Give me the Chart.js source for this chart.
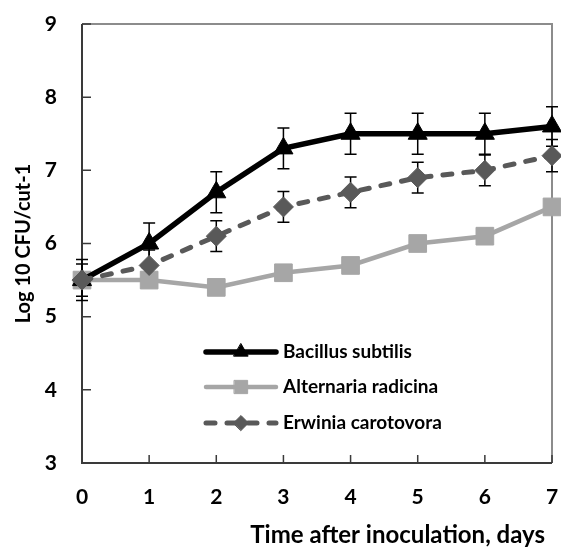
<!DOCTYPE html>
<html>
<head>
<meta charset="utf-8">
<script src="https://cdn.jsdelivr.net/npm/chart.js@4.4.0/dist/chart.umd.min.js"></script>
<style>
  html, body { margin: 0; padding: 0; background: #fff; }
  #wrap { width: 561px; height: 552px; position: relative; }
</style>
</head>
<body>
<div id="wrap"><canvas id="chart"></canvas></div>
<script>
const days = [0, 1, 2, 3, 4, 5, 6, 7];
const bacillus = [5.5, 6.0, 6.7, 7.3, 7.5, 7.5, 7.5, 7.6];
const bacillusErr = [0.28, 0.28, 0.28, 0.28, 0.28, 0.28, 0.28, 0.27];
const alternaria = [5.5, 5.5, 5.4, 5.6, 5.7, 6.0, 6.1, 6.5];
const erwinia = [5.5, 5.7, 6.1, 6.5, 6.7, 6.9, 7.0, 7.2];
const erwiniaErr = [0.22, 0.21, 0.21, 0.21, 0.21, 0.21, 0.21, 0.22];
const seriesNames = ["Bacillus subtilis", "Alternaria radicina", "Erwinia carotovora"];
const xTitle = "Time after inoculation, days";
const yTitle = "Log 10 CFU/cut-1";

const FONT = "Lato, 'DejaVu Sans', sans-serif";
const toPoints = (vals) => days.map((d, i) => ({ x: d, y: vals[i] }));

// box, inner tick marks
const boxPlugin = {
  id: "box",
  beforeDatasetsDraw(chart) {
    const { ctx, chartArea: a, scales } = chart;
    ctx.save();
    ctx.strokeStyle = "#8c8c8c";
    ctx.lineWidth = 2;
    ctx.beginPath();
    ctx.moveTo(a.left, a.top);
    ctx.lineTo(a.right, a.top);
    ctx.lineTo(a.right, a.bottom);
    ctx.stroke();

    ctx.strokeStyle = "#3a3a3a";
    ctx.lineWidth = 1.5;
    ctx.beginPath();
    scales.y.ticks.forEach((t) => {
      const py = scales.y.getPixelForValue(t.value);
      ctx.moveTo(a.left, py);
      ctx.lineTo(a.left + 9, py);
    });
    scales.x.ticks.forEach((t) => {
      const px = scales.x.getPixelForValue(t.value);
      ctx.moveTo(px, a.bottom);
      ctx.lineTo(px, a.bottom - 8);
    });
    ctx.stroke();

    ctx.lineWidth = 2;
    ctx.beginPath();
    ctx.moveTo(a.left, a.top);
    ctx.lineTo(a.left, a.bottom);
    ctx.lineTo(a.right, a.bottom);
    ctx.stroke();
    ctx.restore();
  },
};

// error bars from dataset.errors
const errorBarPlugin = {
  id: "errorBars",
  beforeDatasetsDraw(chart) {
    const { ctx, scales } = chart;
    ctx.save();
    ctx.strokeStyle = "#000";
    ctx.lineWidth = 1.5;
    chart.data.datasets.forEach((ds) => {
      if (!ds.errors) return;
      ds.data.forEach((p, i) => {
        const e = ds.errors[i];
        const px = scales.x.getPixelForValue(p.x);
        const top = scales.y.getPixelForValue(p.y + e);
        const bot = scales.y.getPixelForValue(p.y - e);
        ctx.beginPath();
        ctx.moveTo(px, top);
        ctx.lineTo(px, bot);
        ctx.moveTo(px - 6, top);
        ctx.lineTo(px + 6, top);
        ctx.moveTo(px - 6, bot);
        ctx.lineTo(px + 6, bot);
        ctx.stroke();
      });
    });
    ctx.restore();
  },
};

// legend with line + marker, and x title
const legendPlugin = {
  id: "inlineLegend",
  afterDraw(chart) {
    const { ctx, chartArea: a } = chart;
    const x0 = a.left + 124;
    const x1 = a.left + 194;
    const rows = [a.top + 328, a.top + 363, a.top + 399];
    ctx.save();
    chart.data.datasets.forEach((ds, r) => {
      const y = rows[r];
      ctx.strokeStyle = ds.borderColor;
      ctx.lineWidth = ds.borderWidth;
      ctx.lineCap = "round";
      ctx.setLineDash(ds.borderDash || []);
      ctx.beginPath();
      ctx.moveTo(x0, y);
      ctx.lineTo(x1, y);
      ctx.stroke();
      ctx.setLineDash([]);
      ctx.fillStyle = ds.pointBackgroundColor;
      ctx.strokeStyle = ds.pointBorderColor;
      ctx.lineWidth = 1;
      Chart.helpers.drawPoint(ctx, {
        pointStyle: ds.pointStyle,
        radius: ds.pointRadius * 0.75,
        rotation: 0,
        borderWidth: 1,
      }, (x0 + x1) / 2, y);
      ctx.fillStyle = "#000";
      ctx.font = "bold 19px " + FONT;
      ctx.textAlign = "left";
      ctx.textBaseline = "middle";
      ctx.fillText(ds.label, x1 + 7, y);
    });

    ctx.font = "bold 24px " + FONT;
    ctx.textAlign = "right";
    ctx.textBaseline = "alphabetic";
    ctx.fillText(xTitle, a.right - 7, chart.height - 9);
    ctx.restore();
  },
};

new Chart(document.getElementById("chart"), {
  type: "line",
  data: {
    datasets: [
      {
        label: seriesNames[0],
        data: toPoints(bacillus),
        errors: bacillusErr,
        borderColor: "#000000",
        backgroundColor: "#000000",
        borderWidth: 5.5,
        pointStyle: "triangle",
        pointRadius: 11,
        pointBackgroundColor: "#000000",
        pointBorderColor: "#000000",
        pointBorderWidth: 1,
        tension: 0,
        clip: false,
        order: 2,
      },
      {
        label: seriesNames[1],
        data: toPoints(alternaria),
        borderColor: "#a6a6a6",
        backgroundColor: "#a6a6a6",
        borderWidth: 4.5,
        pointStyle: "rect",
        pointRadius: 12.5,
        pointBackgroundColor: "#a6a6a6",
        pointBorderColor: "#a6a6a6",
        pointBorderWidth: 1,
        tension: 0,
        clip: false,
        order: 3,
      },
      {
        label: seriesNames[2],
        data: toPoints(erwinia),
        errors: erwiniaErr,
        borderColor: "#595959",
        backgroundColor: "#595959",
        borderWidth: 5,
        borderDash: [9, 12],
        borderCapStyle: "round",
        pointStyle: "rectRot",
        pointRadius: 10,
        pointBackgroundColor: "#595959",
        pointBorderColor: "#595959",
        pointBorderWidth: 1,
        tension: 0,
        clip: false,
        order: 1,
      },
    ],
  },
  options: {
    responsive: true,
    maintainAspectRatio: false,
    animation: false,
    layout: { autoPadding: false, padding: { top: 24, right: 9, left: 0, bottom: 0 } },
    plugins: {
      legend: { display: false },
      tooltip: { enabled: false },
    },
    scales: {
      x: {
        type: "linear",
        min: 0,
        max: 7,
        grid: { display: false, drawTicks: false },
        border: { display: false },
        ticks: {
          stepSize: 1,
          color: "#000",
          padding: 22,
          font: { family: FONT, size: 21, weight: "bold" },
        },
        afterFit: (s) => {
          s.height = 89;
          s.paddingLeft = 0;
          s.paddingRight = 0;
        },
      },
      y: {
        min: 3,
        max: 9,
        grid: { display: false, drawTicks: false },
        border: { display: false },
        ticks: {
          stepSize: 1,
          color: "#000",
          padding: 25,
          font: { family: FONT, size: 21, weight: "bold" },
        },
        title: {
          display: true,
          text: yTitle,
          color: "#000",
          padding: { top: 12, bottom: 0 },
          font: { family: FONT, size: 20, weight: "bold" },
        },
        afterFit: (s) => {
          s.width = 82;
          s.paddingTop = 0;
          s.paddingBottom = 0;
        },
      },
    },
  },
  plugins: [boxPlugin, errorBarPlugin, legendPlugin],
});
</script>
</body>
</html>
